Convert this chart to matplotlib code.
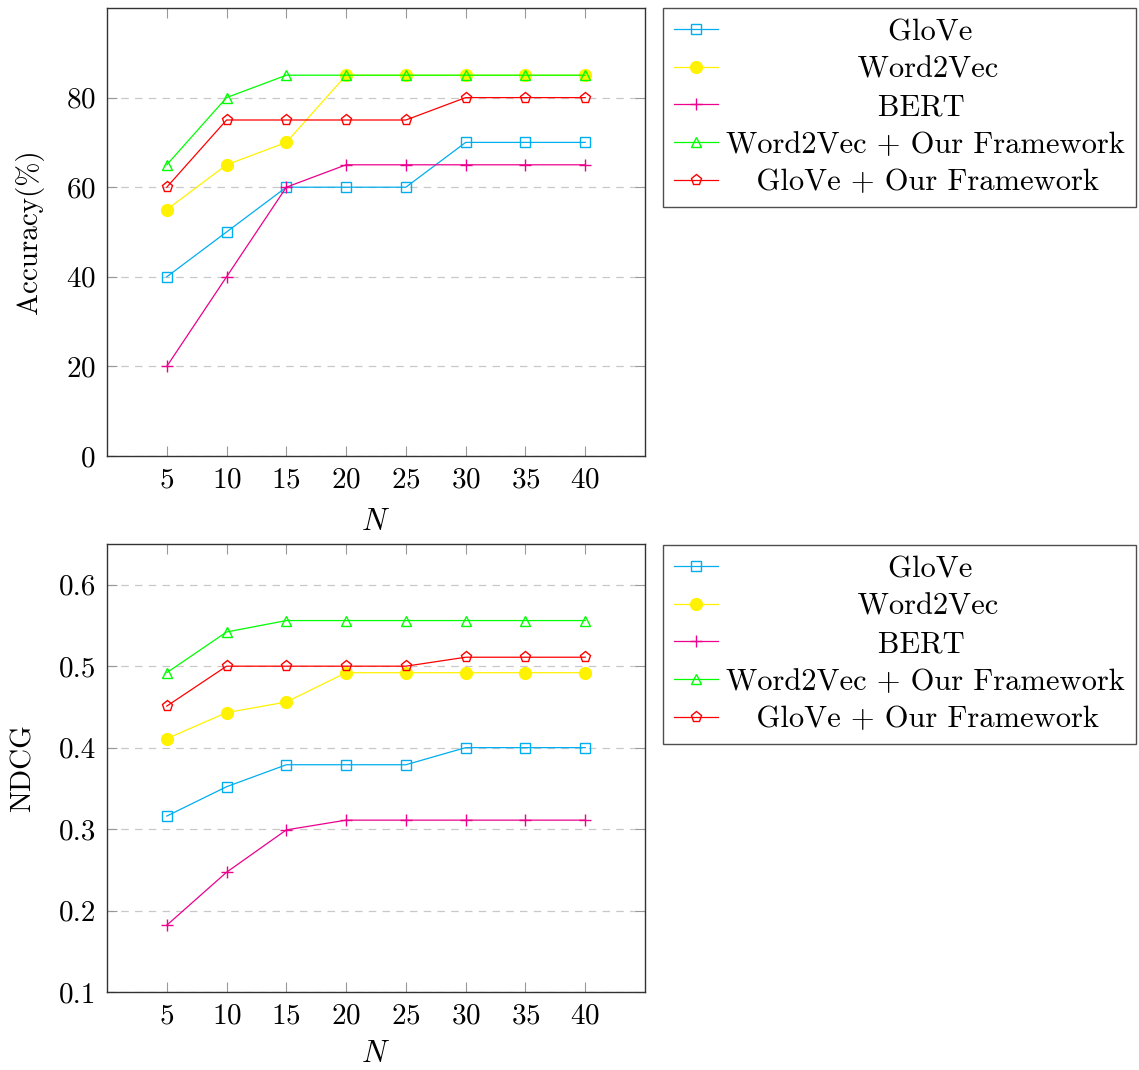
import numpy as np
import matplotlib
matplotlib.use("Agg")
import matplotlib.pyplot as plt

plt.rcParams['font.family'] = ['cmr10', 'DejaVu Serif']
plt.rcParams['mathtext.fontset'] = 'cm'
plt.rcParams['axes.formatter.use_mathtext'] = True

# data
N = [5, 10, 15, 20, 25, 30, 35, 40]
nomes = ["GloVe", "Word2Vec", "BERT", "Word2Vec + Our Framework", "GloVe + Our Framework"]

acc_glove = [40, 50, 60, 60, 60, 70, 70, 70]
acc_w2v = [55, 65, 70, 85, 85, 85, 85, 85]
acc_bert = [20, 40, 60, 65, 65, 65, 65, 65]
acc_w2v_fw = [65, 80, 85, 85, 85, 85, 85, 85]
acc_glove_fw = [60, 75, 75, 75, 75, 80, 80, 80]

ndcg_glove = [0.316, 0.352, 0.379, 0.379, 0.379, 0.400, 0.400, 0.400]
ndcg_w2v = [0.411, 0.443, 0.456, 0.492, 0.492, 0.492, 0.492, 0.492]
ndcg_bert = [0.182, 0.247, 0.299, 0.311, 0.311, 0.311, 0.311, 0.311]
ndcg_w2v_fw = [0.492, 0.542, 0.556, 0.556, 0.556, 0.556, 0.556, 0.556]
ndcg_glove_fw = [0.451, 0.500, 0.500, 0.500, 0.500, 0.511, 0.511, 0.511]

cores = ["#00aeef", "#fff200", "#ec008c", "#00ff00", "#ff0000"]
marcadores = ["s", "o", "+", "^", "p"]
tamanhos = [7.5, 8.5, 9, 7.5, 8]
preenchido = [False, True, False, False, False]

fs = 21
fs_leg = 22


def centralizar(fig, labels, size):
    # pad the labels with spaces so the legend text looks centred
    r = fig.canvas.get_renderer()

    def largura(s):
        t = fig.text(0, 0, s, fontsize=size)
        w = t.get_window_extent(r).width
        t.remove()
        return w

    maior = max(largura(s) for s in labels)
    esp = largura("a a") - largura("aa")
    return [" " * int(round((maior - largura(s)) / 2 / esp)) + s for s in labels]


def painel(ax, series, ylim, yticks, ylabel, labels, leg_anchor, xpad):
    for i, ys in enumerate(series):
        face = cores[i] if preenchido[i] else "none"
        ax.plot(N, ys, color=cores[i], marker=marcadores[i], markersize=tamanhos[i],
                markerfacecolor=face, markeredgecolor=cores[i], markeredgewidth=1.0,
                linewidth=0.9, label=labels[i], clip_on=False, zorder=3 + i)
    ax.set_xlim(0, 45)
    ax.set_ylim(*ylim)
    ax.set_xticks(N)
    ax.set_yticks(yticks)
    ax.tick_params(axis="both", direction="in", length=7, width=0.8, color="#999999",
                   labelsize=fs, top=True, right=True, pad=8)
    ax.grid(axis="y", linestyle=(0, (6, 5)), color="#c8c8c8", linewidth=0.9)
    for s in ax.spines.values():
        s.set_color("#333333")
        s.set_linewidth(1.0)
    ax.set_xlabel("$N$", fontsize=fs + 1, labelpad=xpad)
    ax.set_ylabel(ylabel, fontsize=fs, labelpad=16)
    leg = ax.legend(loc="upper left", bbox_to_anchor=leg_anchor, bbox_transform=fig.transFigure,
                    fontsize=fs_leg, frameon=True, fancybox=False, edgecolor="#222222",
                    borderaxespad=0, handlelength=1.45, handletextpad=0.26,
                    labelspacing=0.33, borderpad=0.35)
    leg.get_frame().set_linewidth(1.0)


fig = plt.figure(figsize=(11.39, 10.70), dpi=100)
labels = centralizar(fig, nomes, fs_leg)

ax1 = fig.add_axes([107 / 1139, 1 - 456 / 1070, 538 / 1139, 448 / 1070])
painel(ax1, [acc_glove, acc_w2v, acc_bert, acc_w2v_fw, acc_glove_fw],
       (0, 100), [0, 20, 40, 60, 80], "Accuracy(%)", labels, (663 / 1139, 1 - 8 / 1070), 11)

ax2 = fig.add_axes([107 / 1139, 1 - 992 / 1070, 538 / 1139, 448 / 1070])
painel(ax2, [ndcg_glove, ndcg_w2v, ndcg_bert, ndcg_w2v_fw, ndcg_glove_fw],
       (0.1, 0.65), [0.1, 0.2, 0.3, 0.4, 0.5, 0.6], "NDCG", labels, (663 / 1139, 1 - 545 / 1070), 8)
ax2.set_yticklabels(["0.1", "0.2", "0.3", "0.4", "0.5", "0.6"])

fig.savefig("out.png", dpi=100)
